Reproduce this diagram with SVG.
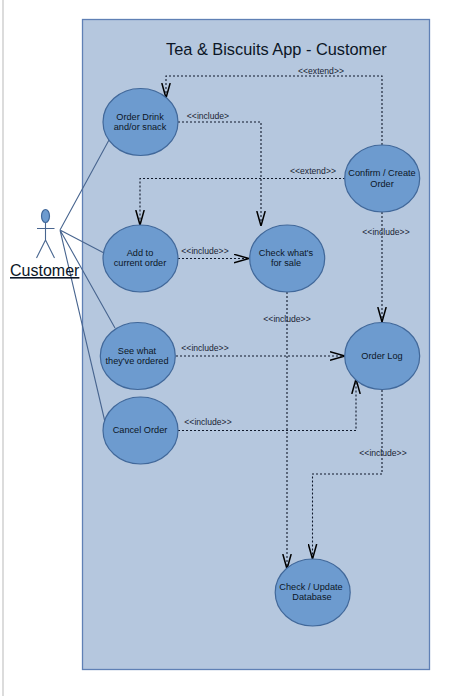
<svg xmlns="http://www.w3.org/2000/svg" width="470" height="696" viewBox="0 0 470 696">
<defs>
<marker id="open" viewBox="0 0 15 10" refX="15" refY="5" markerWidth="15" markerHeight="10" markerUnits="userSpaceOnUse" orient="auto">
<path d="M0 0.800 L15 5 L0 9.200" fill="none" stroke="#000" stroke-width="1.5"/>
</marker>
</defs>
<style>
text{font-family:"Liberation Sans",Arial,sans-serif;fill:#0c1626}
.uc{fill:#6d9bcf;stroke:#41689a;stroke-width:1.2}
.n{font-size:9.2px;text-anchor:middle}
.l{font-size:8.6px;text-anchor:middle;fill:#1a2433}
.d{fill:none;stroke:#10192b;stroke-width:1.1;stroke-dasharray:2 2;marker-end:url(#open)}
.a{fill:none;stroke:#48658f;stroke-width:1.1}
</style>
<rect width="470" height="696" fill="#fff"/>
<rect x="2" y="0" width="2" height="696" fill="#dcdcdc"/>
<rect id="frame" x="82.5" y="19.5" width="347" height="650" fill="#b5c7de" stroke="#5f80b5" stroke-width="1.3"/>
<text id="title" x="166" y="55" font-size="16.350">Tea &amp; Biscuits App - Customer</text>
<g id="connectors">
<path class="a" d="M60 230L109 140M60 230L104 253M60 230L115 328M60 230L105 422"/>
<path class="d" d="M382 145V76H166V98"/>
<path class="d" d="M178 122H261V226"/>
<path class="d" d="M345 178.500H140V225"/>
<path class="d" d="M178 258.500H249"/>
<path class="d" d="M382 212V322"/>
<path class="d" d="M287 292V569"/>
<path class="d" d="M176 356H345"/>
<path class="d" d="M178 430.500H356V379"/>
<path class="d" d="M382 390V474H312.500V559"/>
<text class="l" x="208" y="119">&lt;&lt;include&gt;</text>
<text class="l" x="321" y="74">&lt;&lt;extend&gt;&gt;</text>
<text class="l" x="313" y="174">&lt;&lt;extend&gt;&gt;</text>
<text class="l" x="205" y="254">&lt;&lt;include&gt;&gt;</text>
<text class="l" x="386" y="235">&lt;&lt;include&gt;&gt;</text>
<text class="l" x="287" y="322">&lt;&lt;include&gt;&gt;</text>
<text class="l" x="205" y="351">&lt;&lt;include&gt;&gt;</text>
<text class="l" x="208" y="425">&lt;&lt;include&gt;&gt;</text>
<text class="l" x="383" y="456">&lt;&lt;include&gt;&gt;</text>
</g>
<g id="actor-customer">
<ellipse cx="45.500" cy="216" rx="4" ry="6.500" class="uc"/>
<path d="M45.500 222.500V240M37 228.500H54.500M45.500 240L36.500 258M45.500 240L54.500 258" fill="none" stroke="#48658f" stroke-width="1.1"/>
<text x="10" y="276" font-size="16" text-decoration="underline">Customer</text>
</g>
<g id="uc-order-drink"><ellipse class="uc" cx="140.500" cy="122" rx="37.500" ry="33.500"/><text class="n" x="140" y="120">Order Drink</text><text class="n" x="140" y="130">and/or snack</text></g>
<g id="uc-add-to-order"><ellipse class="uc" cx="140.500" cy="258.500" rx="37.500" ry="33.500"/><text class="n" x="140" y="256">Add to</text><text class="n" x="140" y="266">current order</text></g>
<g id="uc-see-ordered"><ellipse class="uc" cx="137.800" cy="356" rx="37.500" ry="33.500"/><text class="n" x="137" y="354">See what</text><text class="n" x="137" y="364">they've ordered</text></g>
<g id="uc-cancel-order"><ellipse class="uc" cx="140.500" cy="430.500" rx="37.500" ry="33.500"/><text class="n" x="140" y="433">Cancel Order</text></g>
<g id="uc-check-sale"><ellipse class="uc" cx="287.200" cy="258.500" rx="37.500" ry="33.500"/><text class="n" x="286" y="256">Check what's</text><text class="n" x="286" y="266">for sale</text></g>
<g id="uc-confirm-order"><ellipse class="uc" cx="382.200" cy="178.500" rx="37.500" ry="33.500"/><text class="n" x="382" y="176">Confirm / Create</text><text class="n" x="382" y="187">Order</text></g>
<g id="uc-order-log"><ellipse class="uc" cx="382.200" cy="356" rx="37.500" ry="33.500"/><text class="n" x="382" y="359">Order Log</text></g>
<g id="uc-check-database"><ellipse class="uc" cx="312.700" cy="592.500" rx="37.500" ry="33.500"/><text class="n" x="311" y="590">Check / Update</text><text class="n" x="312" y="600">Database</text></g>
</svg>
